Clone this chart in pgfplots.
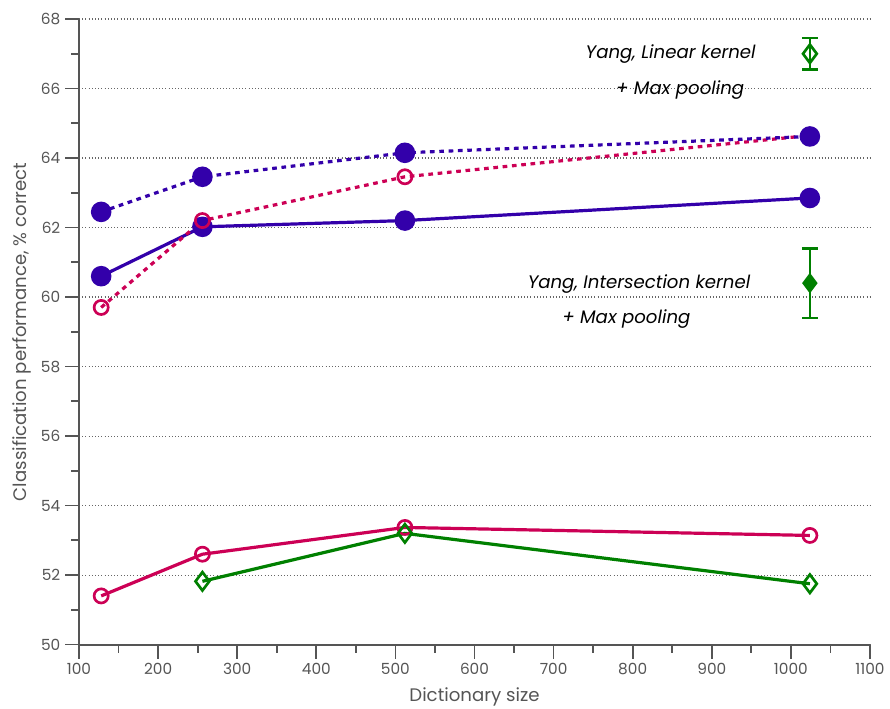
\documentclass[border=0pt]{standalone}
\usepackage{pgfplots}
\pgfplotsset{compat=1.18}
\usepackage{fontspec}
\setmainfont{Poppins}
\definecolor{cblue}{HTML}{3300AA}
\definecolor{cred}{HTML}{CC0055}
\definecolor{cgreen}{HTML}{008000}
\definecolor{cgray}{HTML}{555555}
\begin{document}
\begin{tikzpicture}
\begin{axis}[
  name=ax,
  scale only axis,
  width=593pt, height=469pt,
  xmin=100, xmax=1100, ymin=50, ymax=68,
  axis x line=bottom, axis y line=left,
  axis line style={-, cgray, line width=1.5pt},
  xtick={100,200,...,1100}, minor xtick={150,250,...,1050},
  ytick={50,52,...,68}, minor ytick={51,53,...,67},
  tick align=outside,
  major tick length=10.5pt, minor tick length=6pt,
  every tick/.style={cgray, line width=1.3pt},
  ymajorgrids,
  major grid style={dotted, black!60, line width=0.8pt},
  /pgf/number format/assume math mode=true,
  /pgf/number format/1000 sep={},
  tick label style={font=\fontsize{11.5}{13}\selectfont, text=cgray},
  label style={font=\fontsize{13.6}{15}\selectfont, text=cgray},
  xlabel={Dictionary size},
  ylabel={Classification performance, \% correct},
  xlabel style={at={(axis description cs:0.5,0)}, anchor=center, yshift=-39pt},
  ylabel style={at={(axis description cs:0,0.5)}, anchor=center, yshift=43pt},
  clip=false,
]
% blue solid
\addplot[cblue, line width=2.4pt, mark=*, mark size=6.5pt, mark options={solid}]
  coordinates {(128,60.6) (256,62.02) (512,62.2) (1024,62.85)};
% red dashed
\addplot[cred, line width=2.4pt, dash pattern=on 3.5pt off 3.5pt, mark=o, mark size=5.3pt, mark options={solid, line width=2pt, fill=white}]
  coordinates {(128,59.7) (256,62.2) (512,63.46) (1024,64.65)};
% blue dashed
\addplot[cblue, line width=2.4pt, dash pattern=on 3.5pt off 3.5pt, mark=*, mark size=6.5pt, mark options={solid}]
  coordinates {(128,62.45) (256,63.46) (512,64.15) (1024,64.62)};
% red solid
\addplot[cred, line width=2.4pt, mark=o, mark size=5.3pt, mark options={solid, line width=2pt, fill=white}]
  coordinates {(128,51.4) (256,52.6) (512,53.37) (1024,53.14)};
% green solid
\addplot[cgreen, line width=2.4pt, mark=diamond, mark size=6.9pt, mark options={solid, line width=2pt, fill=white}]
  coordinates {(256,51.82) (512,53.2) (1024,51.75)};
% error bar points
\addplot[cgreen, only marks, mark=diamond, mark size=6.9pt, mark options={line width=2pt, fill=white},
  error bars/.cd, y dir=both, y explicit,
  error bar style={line width=1.7pt, cgreen},
  error mark options={rotate=90, mark size=6pt, line width=1.7pt, cgreen}]
  coordinates {(1024,67.0) +- (0,0.45)};
\addplot[cgreen, only marks, mark=diamond*, mark size=6.9pt, mark options={line width=1pt},
  error bars/.cd, y dir=both, y explicit,
  error bar style={line width=1.7pt, cgreen},
  error mark options={rotate=90, mark size=6pt, line width=1.7pt, cgreen}]
  coordinates {(1024,60.4) +- (0,1.0)};
\node[font=\fontsize{13.6}{15}\selectfont\itshape] at (axis cs:848,67.0) {Yang, Linear kernel};
\node[font=\fontsize{13.6}{15}\selectfont\itshape] at (axis cs:860,65.97) {+ Max pooling};
\node[font=\fontsize{13.6}{15}\selectfont\itshape] at (axis cs:808,60.37) {Yang, Intersection kernel};
\node[font=\fontsize{13.6}{15}\selectfont\itshape] at (axis cs:792,59.37) {+ Max pooling};
\end{axis}
\pgfresetboundingbox
\path[use as bounding box] ([xshift=-59.25pt,yshift=-48pt]ax.south west) rectangle ([xshift=15pt,yshift=14.25pt]ax.north east);
\end{tikzpicture}
\end{document}
